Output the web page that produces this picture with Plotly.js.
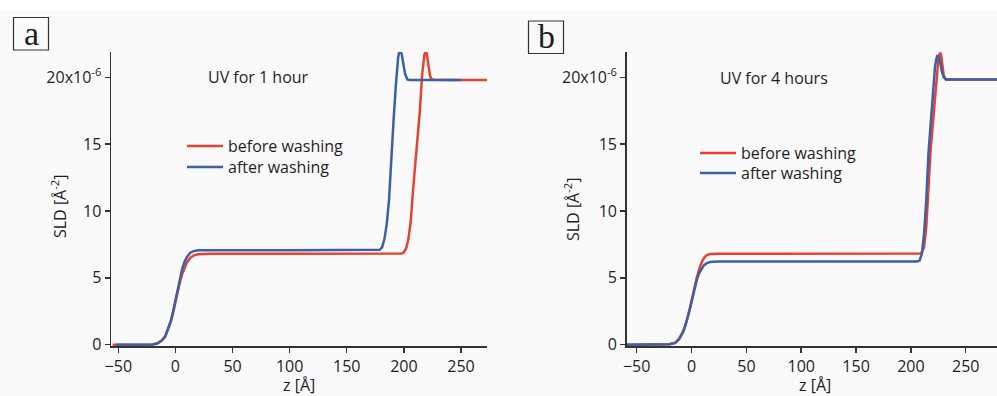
<!DOCTYPE html>
<html>
<head>
<meta charset="utf-8">
<script src="https://cdn.plot.ly/plotly-3.0.1.min.js"></script>
<style>html,body{margin:0;padding:0;background:#fafafa;}</style>
</head>
<body>
<div id="chart" style="width:997px;height:396px;"></div>
<script>
// Panel a: UV for 1 hour
const zA_before = [-55,-40,-25,-20,-16,-12,-9,-6,-4,-2,0,2,4,6,8,10,13,16,20,30,100,180,198,200,202,204,206,208,210,212,214,216,217,218,219,220,221,222,223,224,226,240,273];
const sldA_before = [0,0,0,0.02,0.08,0.3,0.6,1.2,1.7,2.4,3.2,4.0,4.7,5.3,5.8,6.15,6.5,6.68,6.77,6.8,6.8,6.8,6.82,6.9,7.2,7.9,9.2,11.5,13.5,15.2,17.5,20.2,21.2,21.7,21.9,21.8,21.2,20.5,20.1,19.9,19.82,19.8,19.8];
const zA_after = [-52,-40,-25,-20,-16,-12,-9,-6,-4,-2,0,2,4,6,8,10,13,16,20,30,100,170,179,181,183,185,187,188,189,191,193,194,195,196,197,198,199,200,201,202,203,205,220,250];
const sldA_after = [0,0,0,0.02,0.08,0.3,0.6,1.3,1.8,2.5,3.35,4.2,5.0,5.7,6.2,6.55,6.88,7.0,7.06,7.07,7.07,7.07,7.1,7.3,7.9,9.0,10.8,12.3,14.0,16.8,19.4,20.6,21.5,21.9,21.9,21.8,21.4,20.8,20.3,20.0,19.85,19.8,19.8,19.8];

// Panel b: UV for 4 hours
const zB_before = [-59,-40,-25,-20,-15,-11,-7,-4,-1,1,3,5,8,10,12,14,17,20,25,40,100,200,208,210,212,214,216,218,220,222,224,225,226,227,228,229,230,232,250,280];
const sldB_before = [0,0,0,0.03,0.15,0.45,1.1,1.9,2.9,3.6,4.4,5.1,5.9,6.3,6.55,6.7,6.78,6.8,6.8,6.8,6.8,6.8,6.82,6.9,7.3,8.8,12.0,14.6,16.5,18.6,20.6,21.3,21.7,21.85,21.4,20.6,20.1,19.85,19.85,19.85];
const zB_after = [-59,-40,-25,-20,-15,-12,-8,-5,-2,0,2,5,7,9,11,14,17,20,25,40,100,200,206,208,210,212,214,216,218,220,222,223,224,225,226,227,228,230,232,250,280];
const sldB_after = [0,0,0,0.03,0.12,0.35,0.9,1.6,2.5,3.2,3.95,4.9,5.35,5.7,5.92,6.1,6.18,6.2,6.22,6.22,6.22,6.22,6.22,6.3,6.8,8.3,10.8,14.3,16.6,18.9,20.8,21.3,21.6,21.6,21.4,21.0,20.5,20.0,19.85,19.85,19.85];

const seriesNames = ['before washing', 'after washing'];
const panelLabels = ['a', 'b'];
const panelNotes = ['UV for 1 hour', 'UV for 4 hours'];
const xTickVals = [-50, 0, 50, 100, 150, 200, 250];
const yTickVals = [0, 5, 10, 15, 20];
const yTickText = ['0', '5', '10', '15', '20x10<sup>-6</sup>'];

const W = 997, H = 396;
const px = x => x / W;
const py = y => 1 - y / H;
const RED = '#e8412f';
const BLUE = '#3d5ea8';
const FONT = 'Open Sans, sans-serif';
const INK = '#1e1e1e';

const traces = [
  {x: zA_before, y: sldA_before, name: seriesNames[0], xaxis: 'x', yaxis: 'y', legend: 'legend', showlegend: true, mode: 'lines', line: {color: RED, width: 2.5}},
  {x: zA_after, y: sldA_after, name: seriesNames[1], xaxis: 'x', yaxis: 'y', legend: 'legend2', showlegend: true, mode: 'lines', line: {color: BLUE, width: 2.5}},
  {x: zB_before, y: sldB_before, name: seriesNames[0], xaxis: 'x2', yaxis: 'y2', legend: 'legend3', showlegend: true, mode: 'lines', line: {color: RED, width: 2.5}},
  {x: zB_after, y: sldB_after, name: seriesNames[1], xaxis: 'x2', yaxis: 'y2', legend: 'legend4', showlegend: true, mode: 'lines', line: {color: BLUE, width: 2.5}}
];

function xax(domain, range, anchor) {
  return {domain: domain, range: range, anchor: anchor, showline: true, linecolor: '#333', linewidth: 1.5,
    ticks: 'outside', ticklen: 5, tickwidth: 1.5, tickcolor: '#333', tickvals: xTickVals,
    showgrid: false, zeroline: false, tickfont: {family: FONT, size: 16, color: INK}, automargin: false};
}
function yax(domain, anchor) {
  return {domain: domain, range: [-0.1, 21.9], anchor: anchor, showline: true, linecolor: '#333', linewidth: 1.5,
    ticks: 'outside', ticklen: 5, tickwidth: 1.5, tickcolor: '#333', tickvals: yTickVals, ticktext: yTickText,
    showgrid: false, zeroline: false, tickfont: {family: FONT, size: 16, color: INK}, automargin: false};
}
function leg(x, top) {
  return {x: px(x), y: py(top), xanchor: 'left', yanchor: 'top', bgcolor: 'rgba(0,0,0,0)', itemwidth: 36,
    font: {family: FONT, size: 16, color: INK}};
}
function note(text, x, y, extra) {
  return Object.assign({text: text, xref: 'paper', yref: 'paper', x: px(x), y: py(y), xanchor: 'center', yanchor: 'middle',
    showarrow: false, font: {family: FONT, size: 16, color: INK}}, extra || {});
}

const yDom = [py(346), py(52)];
const layout = {
  width: W, height: H,
  showlegend: true,
  margin: {l: 0, r: 0, t: 0, b: 0},
  paper_bgcolor: '#fafafa', plot_bgcolor: 'rgba(0,0,0,0)',
  font: {family: FONT, size: 16, color: INK},
  xaxis: xax([px(111), px(487)], [-56.4, 272.8], 'y'),
  yaxis: yax(yDom, 'x'),
  xaxis2: xax([px(626.7), 1], [-59.1, 278.5], 'y2'),
  yaxis2: yax(yDom, 'x2'),
  legend: leg(182, 129),
  legend2: leg(182, 150),
  legend3: leg(695, 136),
  legend4: leg(695, 156),
  shapes: [
    {type: 'rect', xref: 'paper', yref: 'paper', x0: 0, x1: 1, y0: py(10), y1: 1, fillcolor: '#ffffff', line: {width: 0}, layer: 'below'},
    {type: 'rect', xref: 'paper', yref: 'paper', x0: px(13.5), x1: px(48.5), y0: py(50), y1: py(17.5), line: {color: '#333', width: 1.2}},
    {type: 'rect', xref: 'paper', yref: 'paper', x0: px(528.5), x1: px(563.5), y0: py(53.5), y1: py(21), line: {color: '#333', width: 1.2}}
  ],
  annotations: [
    note(panelLabels[0], 31, 33, {font: {family: 'Liberation Serif, serif', size: 34, color: INK}}),
    note(panelLabels[1], 546, 36, {font: {family: 'Liberation Serif, serif', size: 34, color: INK}}),
    note(panelNotes[0], 258.5, 77),
    note(panelNotes[1], 774, 78),
    note('SLD [Å<sup>-2</sup>]', 59, 207, {textangle: -90}),
    note('SLD [Å<sup>-2</sup>]', 572, 210, {textangle: -90}),
    note('z [Å]', 299, 385),
    note('z [Å]', 815, 385)
  ]
};

Plotly.newPlot('chart', traces, layout, {displayModeBar: false, staticPlot: true});
</script>
</body>
</html>
